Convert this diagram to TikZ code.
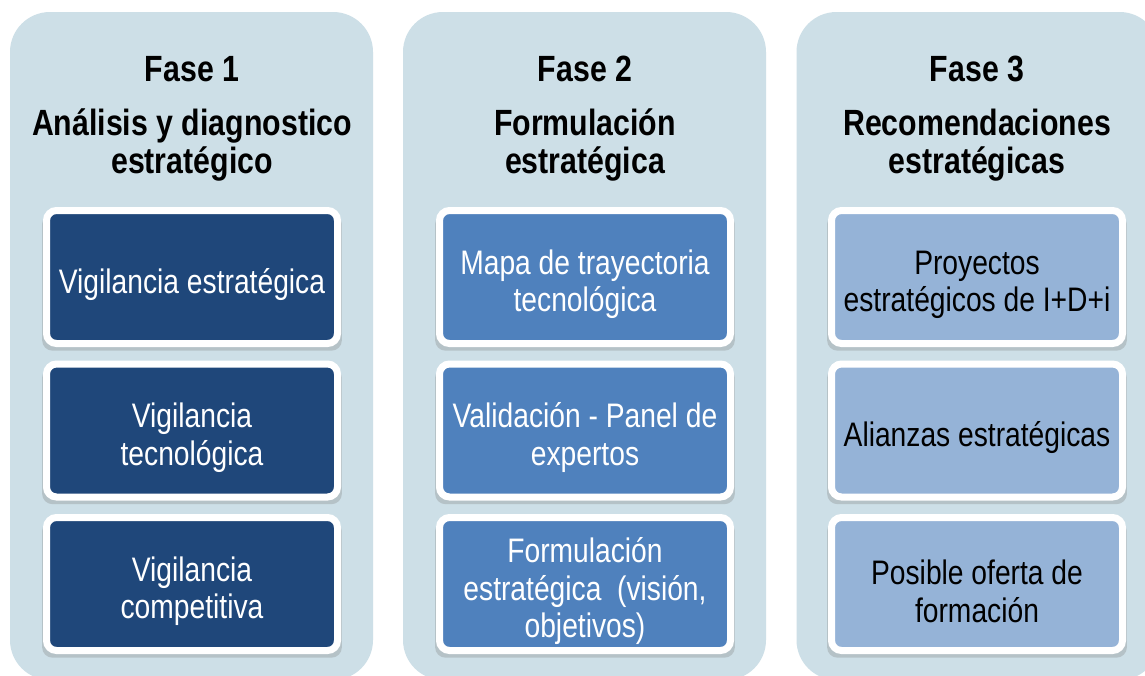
\documentclass[tikz,border=0pt]{standalone}
\usepackage{fontspec}
\setmainfont{Liberation Sans}[FakeStretch=0.83]
\usetikzlibrary{shadows}
\usetikzlibrary{positioning}

\definecolor{panelbg}{RGB}{205,223,231}
\definecolor{darkblue}{RGB}{31,71,122}
\definecolor{midblue}{RGB}{79,129,189}
\definecolor{lightblue}{RGB}{149,179,215}

\newcommand{\tallstrut}{\rule{0pt}{1.15em}}

\begin{document}
\begin{tikzpicture}[
    x=1pt, y=-1pt,
    panel/.style={rectangle, fill=panelbg, rounded corners=40pt, minimum width=363pt, minimum height=668pt, inner sep=0pt},
    title/.style={anchor=north, inner sep=0pt, align=center, font=\fontsize{36.5}{38}\selectfont\bfseries},
    stage/.style={rectangle, draw=white, line width=7pt, rounded corners=10pt, minimum width=291pt, minimum height=133pt, inner sep=0pt, align=center, font=\fontsize{34}{37.5}\selectfont, drop shadow={shadow xshift=0pt, shadow yshift=-5pt, shadow scale=1.03, opacity=0.3}}
]

\useasboundingbox (0,0) rectangle (1145,675);
\fill[white] (0,0) rectangle (1145,675);
\clip (0,0) rectangle (1145,675);

% --- Panels ---
\node[panel] (p1) at (191.5,346) {};
\node[panel] (p2) at (584.5,346) {};
\node[panel] (p3) at (978,346) {};

% --- Titles ---
\node[title] (t1) at (192,56) {Fase 1\\[16pt]Análisis y diagnostico\\estratégico};
\node[title] (t2) at (585,56) {Fase 2\\[16pt]Formulación\\estratégica};
\node[title] (t3) at (977,56) {Fase 3\\[16pt]Recomendaciones\\estratégicas};

% --- Fase 1 boxes ---
\foreach \txt [count=\i] in {{Vigilancia estratégica}, {Vigilancia\\tecnológica}, {Vigilancia\\competitiva}}
    \node[stage, fill=darkblue, text=white] (a\i) at (192,{277+153.5*(\i-1)}) {\tallstrut\txt};

% --- Fase 2 boxes ---
\foreach \txt [count=\i] in {{Mapa de trayectoria\\tecnológica}, {Validación - Panel de\\expertos}, {Formulación\\estratégica\ \ (visión,\\objetivos)}}
    \node[stage, fill=midblue, text=white] (b\i) at (585,{277+153.5*(\i-1)}) {\tallstrut\txt};

% --- Fase 3 boxes ---
\foreach \txt [count=\i] in {{Proyectos\\estratégicos de I+D+i}, {Alianzas estratégicas}, {Posible oferta de\\formación}}
    \node[stage, fill=lightblue, text=black] (c\i) at (977,{277+153.5*(\i-1)}) {\tallstrut\txt};

\end{tikzpicture}
\end{document}
